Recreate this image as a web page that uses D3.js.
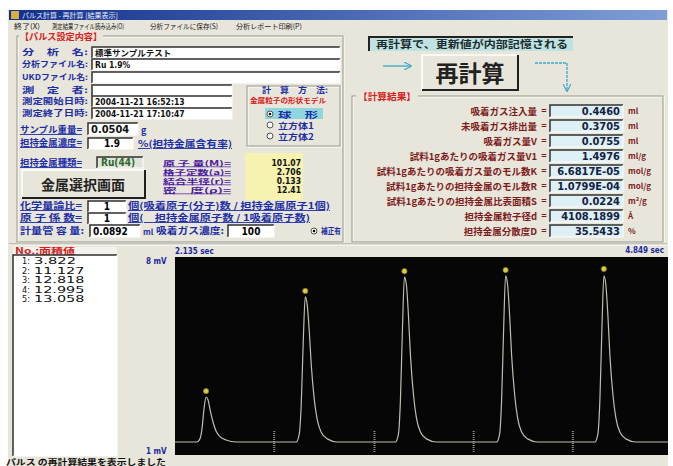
<!DOCTYPE html>
<html lang="ja">
<head>
<meta charset="UTF-8">
<title>パルス再計算</title>
<script src="https://d3js.org/d3.v7.min.js"></script>
<style>
  body { margin: 0; background: #fff; }
  svg text { font-family: "Noto Sans CJK JP", "Noto Sans", sans-serif; }
  .num { font-family: "DejaVu Sans Condensed", "Liberation Sans Narrow", "Liberation Sans", sans-serif; }
</style>
</head>
<body>
<script>
// ---- data ----
var menuItems = ["終了(X)", "測定結果ファイル読み込み(O)", "分析ファイルに保存(S)", "分析レポート印刷(P)"];

var infoLabels = ["分　析　名:", "分析ファイル名:", "UKDファイル名:", "測　定　者:", "測定開始日時:", "測定終了日時:"];
var infoValues = ["標準サンプルテスト", "Ru  1.9%", "", "", "2004-11-21  16:52:13", "2004-11-21  17:10:47"];

var shapeModels = ["球　形", "立方体1", "立方体2"];
var metalLabels = ["原 子 量(M)=", "格子定数(a)=", "結合半径(r)=", "密　度(ρ)="];
var metalValues = ["101.07", "2.706", "0.133", "12.41"];

var resultLabels = ["吸着ガス注入量", "未吸着ガス排出量", "吸着ガス量V", "試料1gあたりの吸着ガス量V1",
  "試料1gあたりの吸着ガス量のモル数K", "試料1gあたりの担持金属のモル数R", "試料1gあたりの担持金属比表面積S",
  "担持金属粒子径d", "担持金属分散度D"];
var resultValues = ["0.4460", "0.3705", "0.0755", "1.4976", "6.6817E-05", "1.0799E-04", "0.0224", "4108.1899", "35.5433"];
var resultUnits = ["ml", "ml", "ml", "ml/g", "mol/g", "mol/g", "m²/g", "Å", "%"];

var peakNo = [1, 2, 3, 4, 5];
var peakArea = ["3.822", "11.127", "12.818", "12.995", "13.058"];

var timeRange = [2.135, 4.849];   // sec
var mvRange = [1, 8];             // mV

// detector trace [sec, mV]
var trace = [
  [2.135, 1.46], [2.256, 1.46], [2.273, 1.58], [2.284, 1.95], [2.295, 2.65], [2.306, 3.05], [2.317, 2.95],
  [2.328, 2.60], [2.345, 2.15], [2.361, 1.85], [2.383, 1.65], [2.416, 1.53], [2.472, 1.46],
  [2.802, 1.46], [2.819, 1.74], [2.830, 2.80], [2.841, 5.00], [2.852, 6.59], [2.863, 6.30], [2.874, 5.40],
  [2.885, 4.20], [2.902, 2.95], [2.918, 2.25], [2.940, 1.80], [2.973, 1.57], [3.029, 1.46],
  [3.348, 1.46], [3.365, 1.74], [3.376, 2.94], [3.387, 5.42], [3.398, 7.29], [3.409, 7.01], [3.420, 5.95],
  [3.431, 4.54], [3.448, 3.12], [3.464, 2.31], [3.486, 1.81], [3.519, 1.57], [3.575, 1.46],
  [3.905, 1.46], [3.922, 1.74], [3.933, 2.94], [3.944, 5.42], [3.955, 7.33], [3.966, 7.01], [3.977, 5.95],
  [3.988, 4.54], [4.005, 3.12], [4.021, 2.31], [4.043, 1.81], [4.076, 1.57], [4.132, 1.46],
  [4.446, 1.46], [4.463, 1.74], [4.474, 2.94], [4.485, 5.42], [4.496, 7.33], [4.507, 7.01], [4.518, 5.95],
  [4.529, 4.54], [4.546, 3.12], [4.562, 2.31], [4.584, 1.81], [4.617, 1.57], [4.673, 1.46], [4.849, 1.46]
];
var peakTop = [[2.306, 3.26], [2.852, 6.80], [3.398, 7.50], [3.955, 7.54], [4.496, 7.58]];
var injectTime = [2.681, 3.233, 3.779, 4.325];
var baseMv = 1.46;

// ---- drawing ----
var W = 673, H = 466;
var svg = d3.select("body").append("svg").attr("width", W).attr("height", H);

var BG = "#e8e5da", BLUE = "#1c2ea6", RED = "#d42020", BROWN = "#7c1c1c";

function txt(x, y, s, o) {
  o = o || {};
  var t = svg.append("text").attr("x", x).attr("y", y).text(s)
    .attr("font-size", o.size || 9)
    .attr("font-weight", o.bold === false ? "normal" : "bold")
    .attr("fill", o.color || "#000")
    .attr("text-anchor", o.anchor || "start");
  if (o.cls) t.attr("class", o.cls);
  if (o.len) t.attr("textLength", o.len).attr("lengthAdjust", "spacingAndGlyphs");
  if (o.ul) t.attr("text-decoration", "underline");
  return t;
}
function sunken(x, y, w, h, fill) {
  svg.append("rect").attr("x", x).attr("y", y).attr("width", w).attr("height", h).attr("fill", fill || "#fff");
  svg.append("path").attr("d", "M" + x + "," + (y + h) + "V" + y + "H" + (x + w))
    .attr("stroke", "#303030").attr("stroke-width", 1.5).attr("fill", "none");
  svg.append("path").attr("d", "M" + x + "," + (y + h) + "H" + (x + w) + "V" + y)
    .attr("stroke", "#fff").attr("fill", "none");
}
function raised(x, y, w, h) {
  svg.append("rect").attr("x", x).attr("y", y).attr("width", w).attr("height", h).attr("fill", BG);
  svg.append("path").attr("d", "M" + x + "," + (y + h) + "V" + y + "H" + (x + w))
    .attr("stroke", "#fff").attr("stroke-width", 1.5).attr("fill", "none");
  svg.append("path").attr("d", "M" + x + "," + (y + h) + "H" + (x + w) + "V" + y)
    .attr("stroke", "#202020").attr("stroke-width", 2).attr("fill", "none");
}
function etched(x, y, w, h) {
  svg.append("rect").attr("x", x + 1).attr("y", y + 1).attr("width", w).attr("height", h)
    .attr("fill", "none").attr("stroke", "#fff");
  svg.append("rect").attr("x", x).attr("y", y).attr("width", w).attr("height", h)
    .attr("fill", "none").attr("stroke", "#9a978c");
}

// window
svg.append("rect").attr("x", 8).attr("y", 10).attr("width", 660).attr("height", 456).attr("fill", BG);
var grad = svg.append("defs").append("linearGradient").attr("id", "tb");
grad.append("stop").attr("offset", "0").attr("stop-color", "#12308a");
grad.append("stop").attr("offset", "1").attr("stop-color", "#7f9ed8");
svg.append("rect").attr("x", 9).attr("y", 10).attr("width", 658).attr("height", 10).attr("fill", "url(#tb)");
svg.append("rect").attr("x", 11).attr("y", 11).attr("width", 8).attr("height", 8).attr("fill", "#d8b040");
txt(22, 18, "パルス計算 - 再計算 [結果表示]", { size: 7, color: "#e8ecff", bold: false });

// menu
var menuX = [14, 52, 150, 236];
var menuLen = [26, 72, 68, 66];
menuItems.forEach(function (m, i) {
  txt(menuX[i], 29, m, { size: 7, bold: false, color: "#202020", len: menuLen[i] });
});

// ---- left: pulse settings ----
etched(17, 36, 326, 206);
svg.append("rect").attr("x", 19).attr("y", 32).attr("width", 84).attr("height", 9).attr("fill", BG);
txt(20, 40, "【パルス設定内容】", { color: RED, len: 82 });

var infoY = [52, 64, 77, 90, 101, 113];
var infoW = [248, 248, 248, 140, 140, 140];
infoLabels.forEach(function (l, i) {
  txt(22, infoY[i] + 3, l, { color: BLUE, len: 66, size: 8 });
  sunken(92, infoY[i] - 5, infoW[i], 11);
  txt(95, infoY[i] + 4, infoValues[i], { size: 8.5, color: "#111", cls: i === 0 ? null : "num" });
});

// calc method group
etched(247, 86, 93, 60);
txt(262, 93, "計　算　方　法:", { color: BLUE, len: 66, size: 8 });
txt(250, 103, "金属粒子の形状モデル", { color: RED, size: 7, len: 76 });
svg.append("rect").attr("x", 265).attr("y", 108).attr("width", 58).attr("height", 11).attr("fill", "#8fd6df");
[114, 125, 136].forEach(function (yy, i) {
  svg.append("circle").attr("cx", 270).attr("cy", yy).attr("r", 3).attr("fill", "#fff").attr("stroke", "#555");
  if (i === 0) svg.append("circle").attr("cx", 270).attr("cy", yy).attr("r", 1.3).attr("fill", "#000");
  txt(278, yy + 3.5, shapeModels[i], { color: BLUE, size: 8.5, len: i === 0 ? 40 : 36 });
});

// sample rows
txt(20, 133, "サンプル重量=", { color: BLUE, len: 62, ul: true });
sunken(88, 123, 50, 12);
txt(91, 133, "0.0504", { cls: "num", size: 11, color: "#111" });
txt(141, 134, "g", { color: BLUE, ul: true });
txt(20, 146, "担持金属濃度=", { color: BLUE, len: 62, ul: true });
sunken(88, 138, 45, 11);
txt(112, 147, "1.9", { cls: "num", size: 10, anchor: "middle" });
txt(138, 147, "%(担持金属含有率)", { color: BLUE, len: 94, ul: true });
txt(20, 166, "担持金属種類=", { color: BLUE, len: 62, ul: true });
sunken(97, 157, 46, 11, "#e0e4d8");
txt(101, 166, "Ru(44)", { cls: "num", size: 10, color: "#2e6a2e" });

raised(22, 170, 123, 28);
txt(83, 190, "金属選択画面", { size: 14, anchor: "middle", color: "#222" });

var metalY = [163, 172, 181, 190];
svg.append("rect").attr("x", 245).attr("y", 153).attr("width", 58).attr("height", 47).attr("fill", "#f6f2b0");
metalLabels.forEach(function (l, i) {
  txt(163, metalY[i] + 2.5, l, { color: "#4a1aa0", len: 68, ul: true, size: 7 });
  txt(301, metalY[i] + 3, metalValues[i], { cls: "num", size: 8.5, anchor: "end", color: "#111" });
});

txt(20, 209, "化学量論比=", { color: BLUE, len: 62, ul: true });
sunken(88, 201, 38, 11);
txt(107, 210, "1", { cls: "num", size: 10, anchor: "middle" });
txt(128, 209, "個(吸着原子(分子)数 / 担持金属原子1個)", { color: BLUE, len: 202, ul: true });
txt(20, 221, "原 子 係 数=", { color: BLUE, len: 62, ul: true });
sunken(88, 213, 38, 11);
txt(107, 222, "1", { cls: "num", size: 10, anchor: "middle" });
txt(128, 221, "個(　担持金属原子数 / 1吸着原子数)", { color: BLUE, len: 182, ul: true });

txt(20, 234, "計量管 容 量:", { color: BLUE, len: 64 });
sunken(90, 225, 50, 12);
txt(93, 235, "0.0892", { cls: "num", size: 10 });
txt(143, 235, "ml", { color: BLUE, size: 8 });
txt(156, 234, "吸着ガス濃度:", { color: BLUE, len: 68 });
sunken(228, 225, 46, 12);
txt(251, 235, "100", { cls: "num", size: 10, anchor: "middle" });
svg.append("circle").attr("cx", 314).attr("cy", 231).attr("r", 3).attr("fill", "#fff").attr("stroke", "#555");
svg.append("circle").attr("cx", 314).attr("cy", 231).attr("r", 1.3).attr("fill", "#000");
txt(321, 234, "補正有", { color: BLUE, len: 20, size: 8 });

// ---- right: recalculation ----
svg.append("rect").attr("x", 369).attr("y", 37).attr("width", 204).attr("height", 14).attr("fill", "#bfe2e2");
svg.append("path").attr("d", "M369,51V37H573").attr("stroke", "#222").attr("stroke-width", 2).attr("fill", "none");
txt(376, 48, "再計算で、更新値が内部記憶される", { size: 10, color: "#1c2c2c", len: 192 });

var arrowDefs = svg.select("defs").append("marker").attr("id", "ah").attr("viewBox", "0 0 10 10")
  .attr("refX", 9).attr("refY", 5).attr("markerWidth", 6).attr("markerHeight", 6).attr("orient", "auto");
arrowDefs.append("path").attr("d", "M0,0L10,5L0,10").attr("fill", "none").attr("stroke", "#3aa8cc").attr("stroke-width", 1.5);
svg.append("path").attr("d", "M383,66H411").attr("stroke", "#3aa8cc").attr("stroke-width", 1.3)
  .attr("fill", "none").attr("marker-end", "url(#ah)");
svg.append("path").attr("d", "M535,63H567V91").attr("stroke", "#3aa8cc").attr("stroke-width", 1.3)
  .attr("stroke-dasharray", "3,1").attr("fill", "none").attr("marker-end", "url(#ah)");

raised(422, 55, 96, 35);
txt(470, 82, "再計算", { size: 23, anchor: "middle", color: "#222" });

etched(352, 96, 311, 146);
svg.append("rect").attr("x", 356).attr("y", 92).attr("width", 62).attr("height", 9).attr("fill", BG);
txt(358, 100, "【計算結果】", { color: RED, len: 58 });

resultLabels.forEach(function (l, i) {
  var cy = 111 + i * 15;
  txt(537, cy + 3.5, l, { color: BROWN, anchor: "end", size: 9.5 });
  txt(544, cy + 3, "=", { color: BROWN, anchor: "middle", size: 9 });
  sunken(550, cy - 6, 73, 12, "#dcf0f6");
  txt(620, cy + 4, resultValues[i], { cls: "num", size: 11, anchor: "end", color: "#162040" });
  txt(628, cy + 3, resultUnits[i], { color: BROWN, size: 8 });
});

// divider
svg.append("line").attr("x1", 9).attr("x2", 667).attr("y1", 244).attr("y2", 244).attr("stroke", "#9a978c");
svg.append("line").attr("x1", 9).attr("x2", 667).attr("y1", 245).attr("y2", 245).attr("stroke", "#fff");

// ---- peak list ----
svg.append("rect").attr("x", 13).attr("y", 247).attr("width", 104).attr("height", 8).attr("fill", "#f4f2ec");
txt(15, 254, "No.:面積値", { color: RED, size: 8.5, len: 60 });
sunken(13, 255, 104, 201);
peakNo.forEach(function (n, i) {
  var yy = 264 + i * 9.5;
  txt(30, yy, n + ":", { cls: "num", size: 9, bold: false, anchor: "end", color: "#111" });
  txt(34, yy, peakArea[i], { cls: "num", size: 9, bold: false, color: "#111", len: peakArea[i].length * 8.4 });
});

// ---- chromatogram ----
var x = d3.scaleLinear().domain(timeRange).range([175, 668]);
var y = d3.scaleLinear().domain(mvRange).range([455, 257]);

svg.append("rect").attr("x", x(timeRange[0])).attr("y", y(mvRange[1]))
  .attr("width", x(timeRange[1]) - x(timeRange[0])).attr("height", y(mvRange[0]) - y(mvRange[1]))
  .attr("fill", "#060606");

txt(x(timeRange[0]), 254, d3.format(".3f")(timeRange[0]) + " sec", { cls: "num", size: 8, color: "#1a2a9a" });
txt(664, 253, d3.format(".3f")(timeRange[1]) + " sec", { cls: "num", size: 8, color: "#1a2a9a", anchor: "end" });
txt(146, y(mvRange[1]) + 7, mvRange[1] + " mV", { cls: "num", size: 8, color: "#1a2a9a" });
txt(146, y(mvRange[0]) - 1, mvRange[0] + " mV", { cls: "num", size: 8, color: "#1a2a9a" });

svg.selectAll(".inj").data(injectTime).enter().append("line").attr("class", "inj")
  .attr("x1", function (d) { return x(d); }).attr("x2", function (d) { return x(d); })
  .attr("y1", y(baseMv) - 11).attr("y2", y(mvRange[0]) - 2)
  .attr("stroke", "#8a8a80").attr("stroke-width", 2).attr("stroke-dasharray", "1,1");

var line = d3.line().x(function (d) { return x(d[0]); }).y(function (d) { return y(d[1]); })
  .curve(d3.curveMonotoneX);
svg.append("path").datum(trace).attr("d", line)
  .attr("fill", "none").attr("stroke", "#bebeb2").attr("stroke-width", 1.2);

svg.selectAll(".pk").data(peakTop).enter().append("circle").attr("class", "pk")
  .attr("cx", function (d) { return x(d[0]); }).attr("cy", function (d) { return y(d[1]); })
  .attr("r", 2.6).attr("fill", "#d8d040").attr("stroke", "#8a7a20").attr("stroke-width", 0.8);

// status bar
txt(6, 465, "パルス の再計算結果を表示しました", { size: 8, color: "#111", len: 160 });
</script>
</body>
</html>
